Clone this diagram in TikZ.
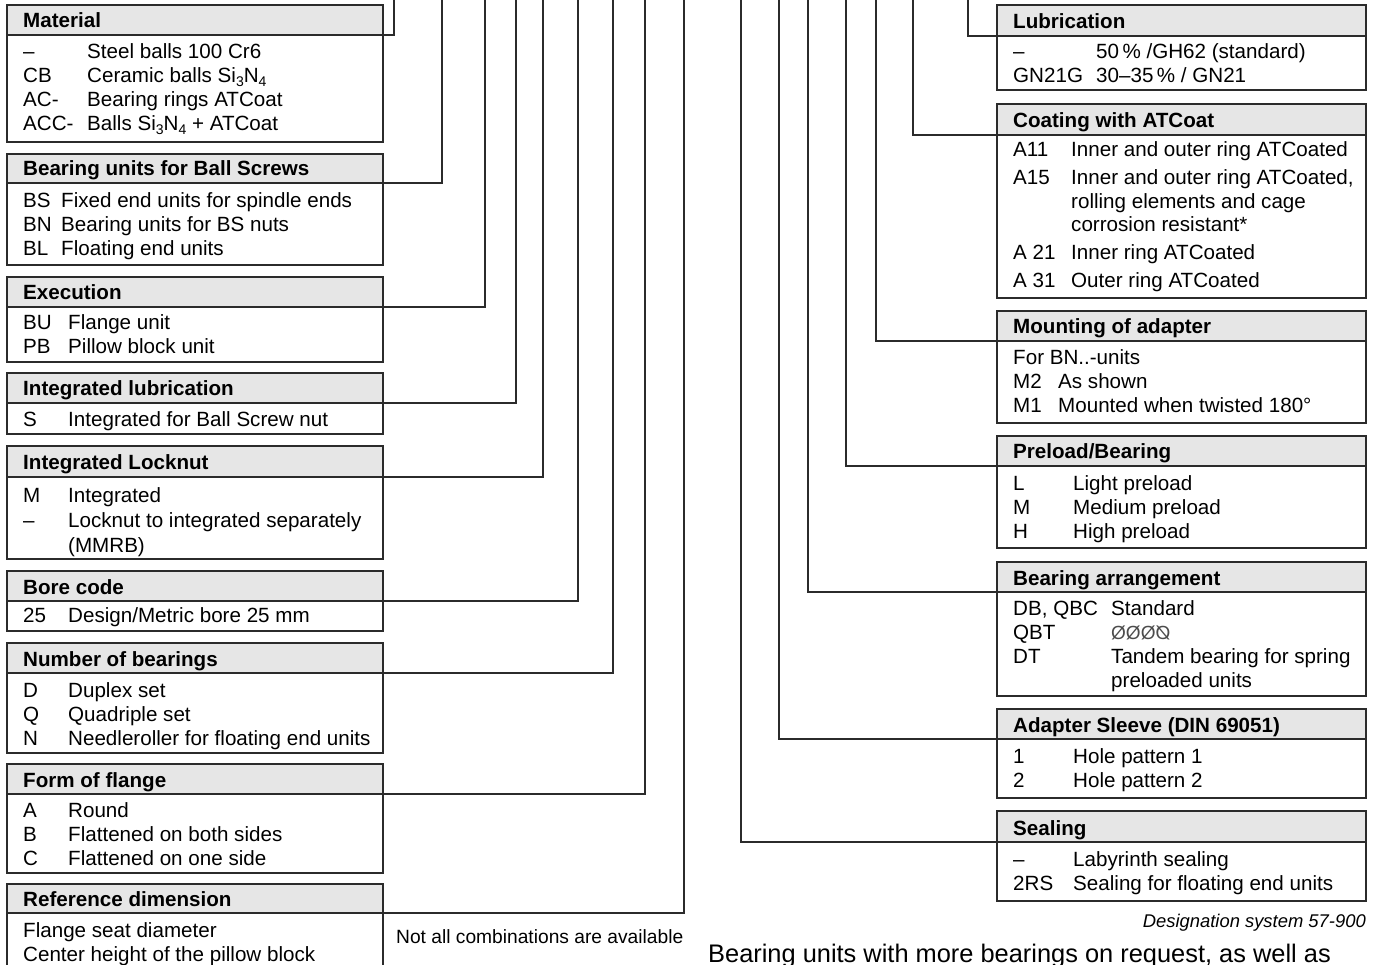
\documentclass[tikz,border=0pt]{standalone}
\usepackage{fontspec}
\usepackage{graphicx}
\setmainfont{Liberation Sans}
\definecolor{lc}{HTML}{2B2B2B}
\definecolor{hf}{HTML}{E6E6E6}
\newcounter{tn}
\newcommand\tx[3]{\stepcounter{tn}\node[txt] (tx\arabic{tn}) at (#1,#2) {#3};}
\newcommand\mysub[1]{\raisebox{-3.5pt}{\fontsize{14}{14}\selectfont #1}}
% name, xl, xr, ytop, ymid, ybot, title
\newcommand\bx[7]{%
  \node[bodybox, minimum width={#3-#2}, minimum height={#6-#5}] (#1b) at (#2,#5) {};
  \node[hdrbox, minimum width={#3-#2}, minimum height={#5-#4}] (#1) at (#2,#4) {};
  \stepcounter{tn}\node[ttl] (tx\arabic{tn}) at ({#2+16},{#5-7}) {#7};}
\begin{document}
\begin{tikzpicture}[x=1pt,y=-1pt,
  bodybox/.style={draw=lc, fill=white, line width=1.3pt, anchor=north west, inner sep=0pt, outer sep=0pt},
  hdrbox/.style={draw=lc, fill=hf, line width=1.3pt, anchor=north west, inner sep=0pt, outer sep=0pt},
  conn/.style={draw=lc, line width=1.3pt},
  txt/.style={anchor=base west, inner sep=0pt, text=black, font=\fontsize{20.6}{24}\selectfont},
  ttl/.style={anchor=base west, inner sep=0pt, text=black, font=\fontsize{20.6}{24}\selectfont\bfseries}]
\useasboundingbox (0,0) rectangle (1374,965);

% ---------------- left column ----------------
\bx{mat}{7}{383}{5}{35}{142}{Material}
\tx{23}{59}{–}\tx{87}{59}{Steel balls 100 Cr6}
\tx{23}{83}{CB}\tx{87}{83}{Ceramic balls Si\mysub{3}N\mysub{4}}
\tx{23}{107}{AC-}\tx{87}{107}{Bearing rings ATCoat}
\tx{23}{131}{ACC-}\tx{87}{131}{Balls Si\mysub{3}N\mysub{4} + ATCoat}

\bx{bu}{7}{383}{154}{183}{265}{Bearing units for Ball Screws}
\tx{23}{208}{BS}\tx{61}{208}{Fixed end units for spindle ends}
\tx{23}{232}{BN}\tx{61}{232}{Bearing units for BS nuts}
\tx{23}{256}{BL}\tx{61}{256}{Floating end units}

\bx{ex}{7}{383}{277}{307}{362}{Execution}
\tx{23}{330}{BU}\tx{68}{330}{Flange unit}
\tx{23}{354}{PB}\tx{68}{354}{Pillow block unit}

\bx{il}{7}{383}{373}{403}{434}{Integrated lubrication}
\tx{23}{427}{S}\tx{68}{427}{Integrated for Ball Screw nut}

\bx{ln}{7}{383}{446}{477}{559}{Integrated Locknut}
\tx{23}{502}{M}\tx{68}{502}{Integrated}
\tx{23}{527}{–}\tx{68}{527}{Locknut to integrated separately}
\tx{68}{552}{(MMRB)}

\bx{bc}{7}{383}{571}{601}{631}{Bore code}
\tx{23}{622}{25}\tx{68}{622}{Design/Metric bore 25 mm}

\bx{nb}{7}{383}{643}{673}{753}{Number of bearings}
\tx{23}{697}{D}\tx{68}{697}{Duplex set}
\tx{23}{721}{Q}\tx{68}{721}{Quadriple set}
\tx{23}{745}{N}\tx{68}{745}{Needleroller for floating end units}

\bx{ff}{7}{383}{764}{794}{873}{Form of flange}
\tx{23}{817}{A}\tx{68}{817}{Round}
\tx{23}{841}{B}\tx{68}{841}{Flattened on both sides}
\tx{23}{865}{C}\tx{68}{865}{Flattened on one side}

\bx{rd}{7}{383}{884}{913}{990}{Reference dimension}
\tx{23}{937}{Flange seat diameter}
\tx{23}{961}{Center height of the pillow block}

\node[anchor=base west, inner sep=0pt, font=\fontsize{19.2}{22}\selectfont] (nac) at (396,943) {Not all combinations are available};

% connector tops (left)
\coordinate (c1) at (394,-5);
\coordinate (c2) at (442,-5);
\coordinate (c3) at (485,-5);
\coordinate (c4) at (516,-5);
\coordinate (c5) at (543,-5);
\coordinate (c6) at (578,-5);
\coordinate (c7) at (613,-5);
\coordinate (c8) at (645,-5);
\coordinate (c9) at (684,-5);
\draw[conn] (mat.south east) -| (c1);
\draw[conn] (bu.south east) -| (c2);
\draw[conn] (ex.south east) -| (c3);
\draw[conn] (il.south east) -| (c4);
\draw[conn] (ln.south east) -| (c5);
\draw[conn] (bc.south east) -| (c6);
\draw[conn] (nb.south east) -| (c7);
\draw[conn] (ff.south east) -| (c8);
\draw[conn] (rd.south east) -| (c9);

% ---------------- right column ----------------
\bx{lu}{997}{1366}{5}{36}{90}{Lubrication}
\tx{1013}{59}{–}\tx{1096}{59}{50\,\% /GH62 (standard)}
\tx{1013}{83}{GN21G}\tx{1096}{83}{30–35\,\% / GN21}

\bx{co}{997}{1366}{104}{135}{298}{Coating with ATCoat}
\tx{1013}{157}{A11}\tx{1071}{157}{Inner and outer ring ATCoated}
\tx{1013}{185}{A15}\tx{1071}{185}{Inner and outer ring ATCoated,}
\tx{1071}{209}{rolling elements and cage}
\tx{1071}{232}{corrosion resistant*}
\tx{1013}{260}{A 21}\tx{1071}{260}{Inner ring ATCoated}
\tx{1013}{288}{A 31}\tx{1071}{288}{Outer ring ATCoated}

\bx{mo}{997}{1366}{311}{341}{423}{Mounting of adapter}
\tx{1013}{365}{For BN..-units}
\tx{1013}{389}{M2}\tx{1058}{389}{As shown}
\tx{1013}{413}{M1}\tx{1058}{413}{Mounted when twisted 180°}

\bx{pr}{997}{1366}{436}{466}{548}{Preload/Bearing}
\tx{1013}{490}{L}\tx{1073}{490}{Light preload}
\tx{1013}{514}{M}\tx{1073}{514}{Medium preload}
\tx{1013}{538}{H}\tx{1073}{538}{High preload}

\bx{ba}{997}{1366}{562}{592}{696}{Bearing arrangement}
\tx{1013}{615}{DB, QBC}\tx{1111}{615}{Standard}
\tx{1013}{639}{QBT}
\node[anchor=base west, inner sep=0pt, font=\fontsize{19}{22}\selectfont, text=black!70] (sym) at (1111,639) {ØØØ\reflectbox{Ø}};
\tx{1013}{663}{DT}\tx{1111}{663}{Tandem bearing for spring}
\tx{1111}{687}{preloaded units}

\bx{as}{997}{1366}{709}{739}{798}{Adapter Sleeve (DIN 69051)}
\tx{1013}{763}{1}\tx{1073}{763}{Hole pattern 1}
\tx{1013}{787}{2}\tx{1073}{787}{Hole pattern 2}

\bx{se}{997}{1366}{811}{842}{901}{Sealing}
\tx{1013}{866}{–}\tx{1073}{866}{Labyrinth sealing}
\tx{1013}{890}{2RS}\tx{1073}{890}{Sealing for floating end units}

\coordinate (d1) at (968,-5);
\coordinate (d2) at (913,-5);
\coordinate (d3) at (876,-5);
\coordinate (d4) at (846,-5);
\coordinate (d5) at (808,-5);
\coordinate (d6) at (779,-5);
\coordinate (d7) at (741,-5);
\draw[conn] (lu.south west) -| (d1);
\draw[conn] (co.south west) -| (d2);
\draw[conn] (mo.south west) -| (d3);
\draw[conn] (pr.south west) -| (d4);
\draw[conn] (ba.south west) -| (d5);
\draw[conn] (as.south west) -| (d6);
\draw[conn] (se.south west) -| (d7);

\node[anchor=base east, inner sep=0pt, font=\fontsize{18.4}{22}\selectfont\itshape] (des) at (1366,927) {Designation system 57-900};
\node[anchor=base west, inner sep=0pt, font=\fontsize{25.4}{30}\selectfont] (bot) at (708,962) {Bearing units with more bearings on request, as well as};
\end{tikzpicture}
\end{document}
